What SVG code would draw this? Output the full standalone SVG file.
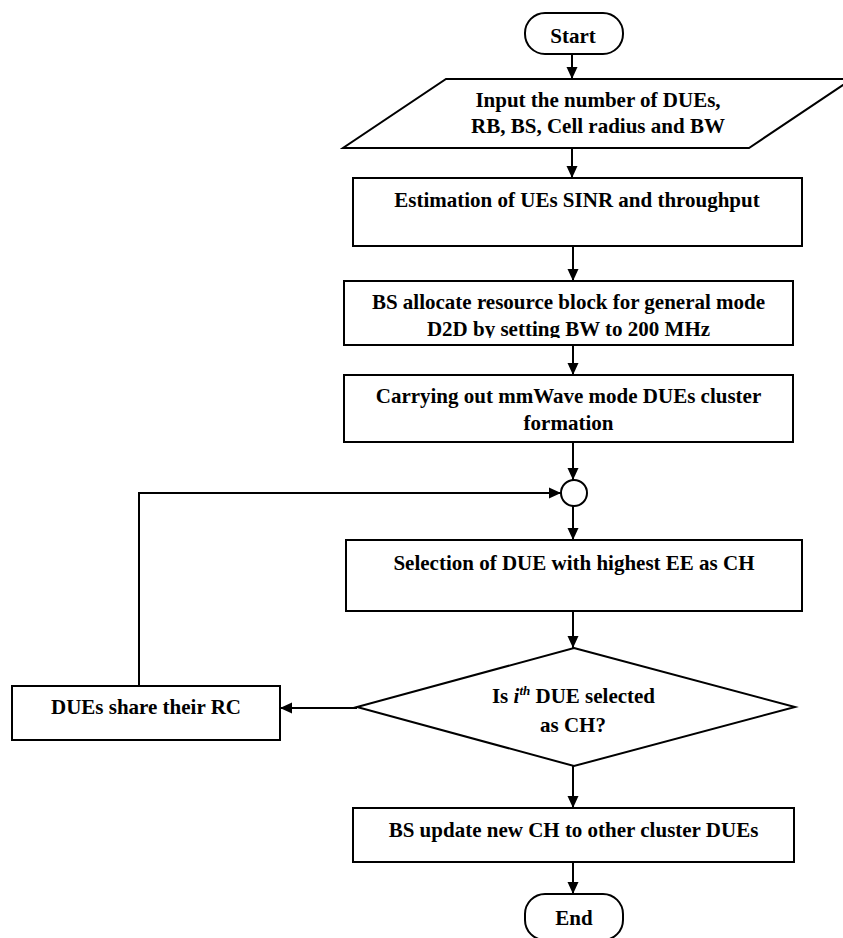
<svg xmlns="http://www.w3.org/2000/svg" width="843" height="938" viewBox="0 0 843 938">
<style>
.s{fill:#fff;stroke:#000;stroke-width:2}
.t{font-family:"Liberation Serif","Times New Roman",serif;font-weight:bold;font-size:21px;fill:#000;text-anchor:middle}
.c{fill:none;stroke:#000;stroke-width:2}
</style>
<defs>
<marker id="ah" markerWidth="12" markerHeight="12" refX="12" refY="6" orient="auto" markerUnits="userSpaceOnUse">
<path d="M0,0.5 L12,6 L0,11.5 z" fill="#000"/>
</marker>
<clipPath id="clip3"><rect x="344" y="281" width="449" height="57"/></clipPath>
</defs>
<rect width="843" height="938" fill="#fff"/>
<g id="start">
<rect class="s" x="525" y="13" width="98" height="41" rx="20" ry="20"/>
<text class="t" x="573" y="43">Start</text>
</g>
<g id="input">
<polygon class="s" points="446,79 852,79 749,148 343,148"/>
<text class="t" x="598" y="107">Input the number of DUEs,</text>
<text class="t" x="598" y="133">RB, BS, Cell radius and BW</text>
</g>
<g id="estimation">
<rect class="s" x="353" y="178" width="449" height="68"/>
<text class="t" x="577" y="207">Estimation of UEs SINR and throughput</text>
</g>
<g id="allocate">
<rect class="s" x="344" y="281" width="449" height="64"/>
<g clip-path="url(#clip3)">
<text class="t" x="568.5" y="309">BS allocate resource block for general mode</text>
<text class="t" x="568.5" y="336">D2D by setting BW to 200 MHz</text>
</g>
</g>
<g id="cluster">
<rect class="s" x="344" y="375" width="449" height="67"/>
<text class="t" x="568.5" y="403">Carrying out mmWave mode DUEs cluster</text>
<text class="t" x="568.5" y="430">formation</text>
</g>
<g id="junction">
<circle class="s" cx="574" cy="493" r="13"/>
</g>
<g id="selection">
<rect class="s" x="346" y="540" width="456" height="71"/>
<text class="t" x="574" y="570">Selection of DUE with highest EE as CH</text>
</g>
<g id="decision">
<polygon class="s" points="574,648 795,707 574,766 357,707"/>
<text class="t" x="573.5" y="703">Is <tspan font-style="italic">i</tspan><tspan font-style="italic" font-size="13" dy="-8">th</tspan><tspan dy="8"> DUE selected</tspan></text>
<text class="t" x="573" y="732">as CH?</text>
</g>
<g id="share">
<rect class="s" x="12" y="686" width="268" height="54"/>
<text class="t" x="146" y="714">DUEs share their RC</text>
</g>
<g id="update">
<rect class="s" x="353" y="808" width="441" height="54"/>
<text class="t" x="573.5" y="837">BS update new CH to other cluster DUEs</text>
</g>
<g id="end">
<rect class="s" x="525" y="894" width="98" height="46" rx="20" ry="20"/>
<text class="t" x="574" y="925">End</text>
</g>
<g id="connectors">
<line class="c" x1="572" y1="54" x2="572" y2="79" marker-end="url(#ah)"/>
<line class="c" x1="572" y1="148" x2="572" y2="178" marker-end="url(#ah)"/>
<line class="c" x1="573" y1="246" x2="573" y2="281" marker-end="url(#ah)"/>
<line class="c" x1="573" y1="345" x2="573" y2="375" marker-end="url(#ah)"/>
<line class="c" x1="573" y1="442" x2="573" y2="480" marker-end="url(#ah)"/>
<line class="c" x1="573" y1="506" x2="573" y2="540" marker-end="url(#ah)"/>
<line class="c" x1="573" y1="611" x2="573" y2="648" marker-end="url(#ah)"/>
<line class="c" x1="573" y1="766" x2="573" y2="808" marker-end="url(#ah)"/>
<line class="c" x1="573" y1="862" x2="573" y2="894" marker-end="url(#ah)"/>
<line class="c" x1="357" y1="708" x2="280" y2="708" marker-end="url(#ah)"/>
<polyline class="c" points="139,686 139,493 561,493" marker-end="url(#ah)"/>
</g>
</svg>
